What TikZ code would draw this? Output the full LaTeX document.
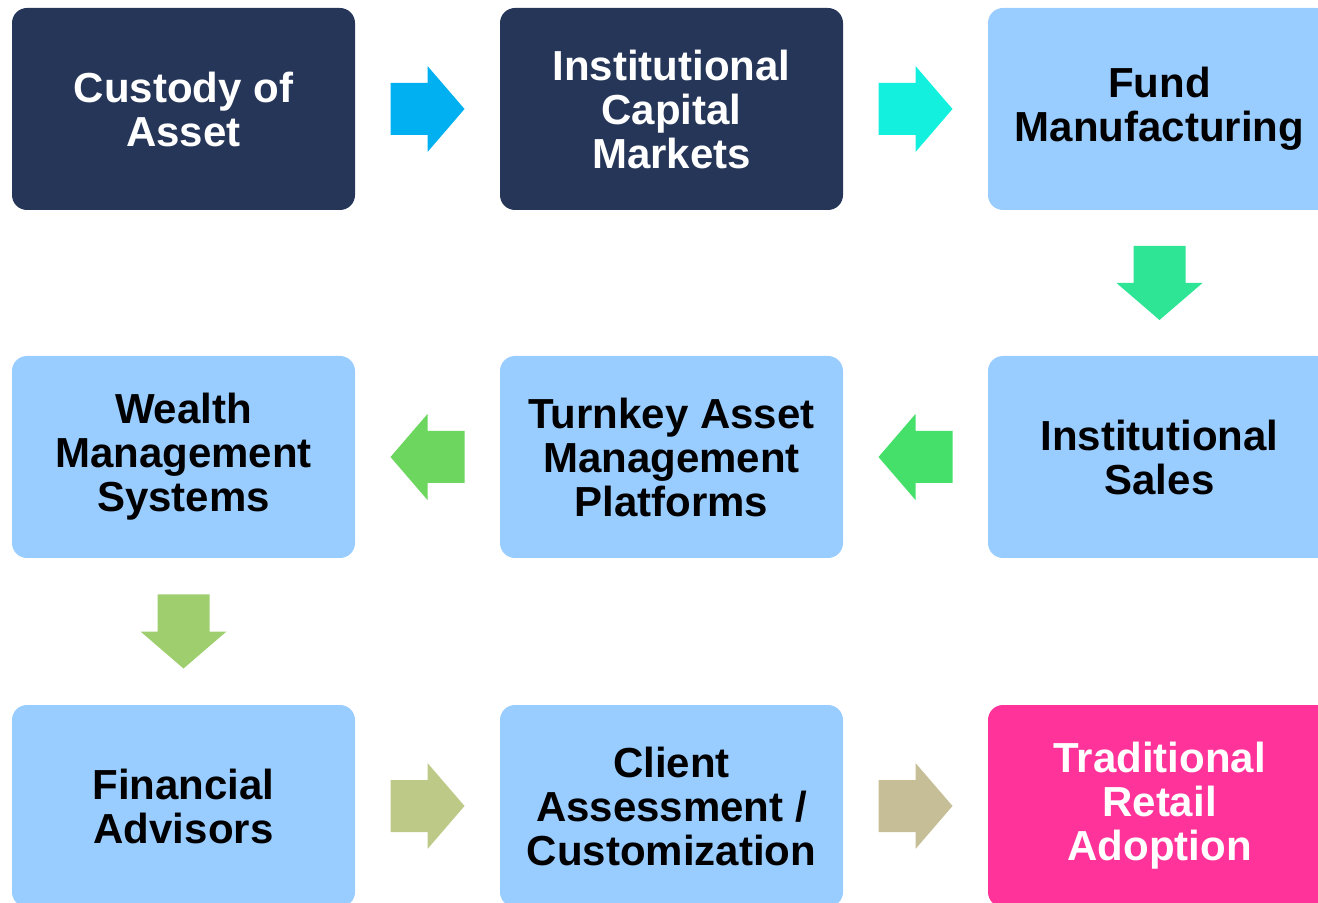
\documentclass[tikz,border=0pt]{standalone}
\usepackage{fontspec}
\setmainfont{Liberation Sans}
\usetikzlibrary{calc}
\definecolor{navy}{HTML}{263659}
\definecolor{skyblue}{HTML}{99CCFF}
\definecolor{hotpink}{HTML}{FF3399}
\definecolor{arA}{HTML}{00B0F0}
\definecolor{arB}{HTML}{13F1DE}
\definecolor{arC}{HTML}{2DE595}
\definecolor{arD}{HTML}{44E06A}
\definecolor{arE}{HTML}{6CD65E}
\definecolor{arF}{HTML}{9ECE6E}
\definecolor{arG}{HTML}{BDC987}
\definecolor{arH}{HTML}{C5BE97}
\begin{document}
\begin{tikzpicture}[x=0.5pt,y=-0.5pt,
		box/.style={rounded corners=7.5pt,minimum width=171.5pt,minimum height=101pt,inner sep=0pt,align=center,font=\bfseries\fontsize{21}{22}\selectfont},
		darkbox/.style={box,fill=navy,text=white},
		lightbox/.style={box,fill=skyblue,text=black},
		pinkbox/.style={box,fill=hotpink,text=white}]
		\useasboundingbox (0,0) rectangle (1318,903);
		\clip (0,0) rectangle (1318,903);
		\node[darkbox] (custody) at (183.5,109) {Custody of\\Asset};
		\node[darkbox] (capital) at (671.5,109) {Institutional\\Capital\\Markets};
		\node[lightbox] (fund) at (1159.5,109) {Fund\\Manufacturing};
		\node[lightbox] (sales) at (1159.5,457) {Institutional\\Sales};
		\node[lightbox] (turnkey) at (671.5,457) {Turnkey Asset\\Management\\Platforms};
		\node[lightbox] (wealth) at (183.5,457) {Wealth\\Management\\Systems};
		\node[lightbox] (advisors) at (183.5,806) {Financial\\Advisors};
		\node[lightbox] (client) at (671.5,806) {Client\\Assessment /\\Customization};
		\node[pinkbox] (retail) at (1159.5,806) {Traditional\\Retail\\Adoption};
		\foreach \a/\b/\r/\c in {custody/capital/0/arA,capital/fund/0/arB,fund/sales/270/arC,sales/turnkey/180/arD,turnkey/wealth/180/arE,wealth/advisors/270/arF,advisors/client/0/arG,client/retail/0/arH}{
			\coordinate (\a-\b) at ($(\a)!0.5!(\b)$);
			\fill[\c,shift={(\a-\b)},rotate=\r] (-37,-26)--(0,-26)--(0,-43)--(37,0)--(0,43)--(0,26)--(-37,26)--cycle;
		}
	\end{tikzpicture}
\end{document}
